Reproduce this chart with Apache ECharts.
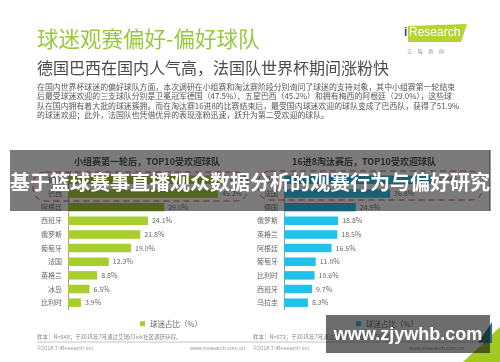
<!DOCTYPE html>
<html><head><meta charset="utf-8">
<script src="https://cdn.jsdelivr.net/npm/echarts@6/dist/echarts.min.js"></script>
<style>html,body{margin:0;padding:0;background:#fff}#c{width:500px;height:362px}</style>
</head><body><div id="c"></div>
<script>
const leftTitle = '小组赛第一轮后，TOP10受欢迎球队';
const rightTitle = '16进8淘汰赛后，TOP10受欢迎球队';
const leftCats = ['德国','巴西','阿根廷','西班牙','俄罗斯','葡萄牙','法国','英格兰','冰岛','比利时'];
const leftVals = [47.5,45.2,29.0,24.1,21.8,19.0,12.3,8.8,6.5,3.9];
const rightCats = ['巴西','法国','德国','俄罗斯','英格兰','阿根廷','葡萄牙','比利时','西班牙','乌拉圭'];
const rightVals = [51.9,36.8,24.9,18.8,18.5,16.5,11.0,10.6,9.7,8.3];
const seriesName = '球迷占比（%）';

const F = 'Noto Sans CJK SC';
const chart = echarts.init(document.getElementById('c'), null, {renderer:'canvas'});
const yAx = (gi, cats) => ({
  type:'category', gridIndex:gi, data:cats, inverse:true,
  axisTick:{show:false}, axisLine:{show:true, lineStyle:{color:'#9a9a9a', width:1}},
  axisLabel:{fontSize:7, color:'#666', margin:6, fontFamily:F}
});
const xAx = (gi) => ({type:'value', gridIndex:gi, min:0, max:60, show:false});
const bar = (gi, vals, color) => ({
  type:'bar', name:seriesName, xAxisIndex:gi, yAxisIndex:gi, data:vals, barWidth:8.5,
  itemStyle:{color}, silent:true,
  label:{show:true, position:'right', distance:4, fontSize:7, color:'#666', fontFamily:F,
    formatter:p=>p.value.toFixed(1)+'%'}
});
const para = [
 '在国内世界杯球迷的偏好球队方面，本次调研在小组赛和淘汰赛阶段分别询问了球迷的支持对象，其中小组赛第一轮结束',
 '后最受球迷欢迎的三支球队分别是卫冕冠军德国（47.5%）、五星巴西（45.2%）和拥有梅西的阿根廷（29.0%），这些球',
 '队在国内拥有着大批的球迷簇拥。而在淘汰赛16进8的比赛结束后，最受国内球迷欢迎的球队变成了巴西队，获得了51.9%',
 '的球迷欢迎；此外，法国队也凭借优异的表现涨粉迅速，跃升为第二受欢迎的球队。'
];
const g = [];
g.push({type:'text', left:37, top:28, style:{text:'球迷观赛偏好-偏好球队', fill:'#96c93e', font:'21.5px "Noto Sans CJK SC"'}});
g.push({type:'text', left:37, top:60, style:{text:'德国巴西在国内人气高，法国队世界杯期间涨粉快', fill:'#4a4a4a', font:'16px "Noto Sans CJK SC"'}});
para.forEach((t,i)=>g.push({type:'text', left:37, top:83+i*9.3, style:{text:t, fill:'#555', font:'7.9px "Noto Sans CJK SC"'}}));
// logo
g.push({type:'polygon', shape:{points:[[408,26],[467,24],[461,42],[408,42]]}, style:{fill:'#b5d431'}});
g.push({type:'text', left:404, top:27, style:{text:'i', fill:'#1d4e8f', font:'bold 12px "Liberation Sans"'}});
g.push({type:'text', left:409, top:27, style:{text:'Research', fill:'#fff', font:'12px "Liberation Sans"'}});
g.push({type:'text', left:407, top:49, style:{text:'艾     瑞     咨     询', fill:'#888', font:'5px "Noto Sans CJK SC"'}});
// dashed highlight
g.push({type:'rect', shape:{x:33,y:172,width:215,height:29,r:12}, style:{fill:'none', stroke:'#e24a4a', lineWidth:1, lineDash:[6,4]}});
g.push({type:'rect', shape:{x:258,y:171,width:225,height:29,r:12}, style:{fill:'none', stroke:'#e24a4a', lineWidth:1, lineDash:[6,4]}});
// footers
const foot = (x, n, wx) => {
  g.push({type:'text', left:x, top:334, style:{text:'样本：N='+n+'；于2018年7月通过艾瑞iClick社区调研获得。', fill:'#888', font:'5.5px "Noto Sans CJK SC"'}});
  g.push({type:'text', left:x, top:345, style:{text:'©2018.7 iResearch Inc.', fill:'#999', font:'5.5px "Liberation Sans"'}});
  g.push({type:'text', left:wx, top:345, style:{text:'www.iresearch.com.cn', fill:'#999', font:'5.5px "Liberation Sans"'}});
};
foot(37,'648',190); foot(253,'672',409);
g.push({type:'line', shape:{x1:37,y1:342,x2:490,y2:342}, style:{stroke:'#b5b5b5', lineWidth:0.8}});
// page corner
g.push({type:'polygon', shape:{points:[[463,362],[500,327],[500,362]]}, style:{fill:'#a3c91f'}});
g.push({type:'polygon', shape:{points:[[478,343],[492,322],[492,343]]}, style:{fill:'#2e6f86'}});
g.push({type:'text', left:476, top:342, style:{text:'16', fill:'#fff', font:'7px "Liberation Sans"'}});
// overlays
g.push({type:'rect', z:100, shape:{x:10,y:150,width:480,height:61}, style:{fill:'rgba(20,20,20,0.56)'}});
g.push({type:'line', z:101, shape:{x1:490,y1:150,x2:490,y2:211}, style:{stroke:'#333', lineWidth:1}});
g.push({type:'text', z:102, x:250, y:182, style:{text:'基于篮球赛事直播观众数据分析的观赛行为与偏好研究', fill:'#fff', font:'bold 20px "Noto Sans CJK SC"', align:'center', verticalAlign:'middle'}});
g.push({type:'rect', z:100, shape:{x:326,y:315,width:164,height:38}, style:{fill:'rgba(20,20,20,0.62)'}});
g.push({type:'text', z:102, x:408, y:335, style:{text:'www.zjywhb.com', fill:'#fff', font:'bold 18px "Liberation Sans"', align:'center', verticalAlign:'middle'}});

chart.setOption({
  animation:false,
  title:[
    {text:leftTitle, left:142, top:152, textAlign:'center', textStyle:{fontSize:9, fontWeight:'bold', color:'#444', fontFamily:F}},
    {text:rightTitle, left:359, top:152, textAlign:'center', textStyle:{fontSize:9, fontWeight:'bold', color:'#444', fontFamily:F}}
  ],
  legend:[
    {left:135, top:315, itemWidth:5, itemHeight:5, itemGap:3, textStyle:{fontSize:7.5, color:'#666', fontFamily:F},
     data:[{name:seriesName, icon:'rect', itemStyle:{color:'#a7cd2e'}}]},
    {left:351, top:315, itemWidth:5, itemHeight:5, itemGap:3, textStyle:{fontSize:7.5, color:'#666', fontFamily:F},
     data:[{name:seriesName, icon:'rect', itemStyle:{color:'#21c1ea'}}]}
  ],
  grid:[
    {left:68, top:173, width:199, height:136.5},
    {left:284, top:173, width:173, height:136.5}
  ],
  xAxis:[xAx(0), xAx(1)],
  yAxis:[yAx(0,leftCats), yAx(1,rightCats)],
  series:[bar(0,leftVals,'#a7cd2e'), bar(1,rightVals,'#21c1ea')],
  graphic:{elements:g}
});
</script></body></html>
